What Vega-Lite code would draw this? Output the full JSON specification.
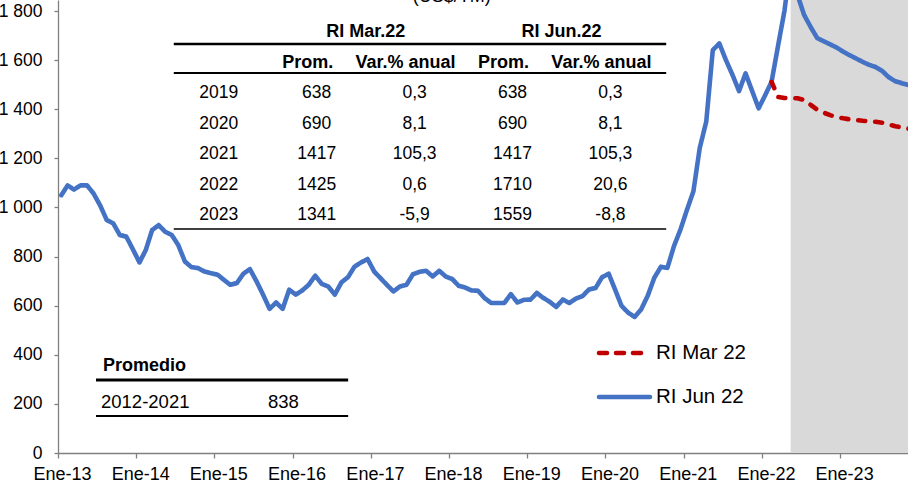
{
  "$schema": "https://vega.github.io/schema/vega-lite/v6.json",
  "width": 850,
  "height": 453,
  "autosize": {"type": "none"},
  "padding": {"left": 58, "top": 0, "right": 0, "bottom": 30},
  "background": "white",
  "config": {"view": {"stroke": null}, "font": "Liberation Sans"},
  "datasets": {
    "sombra": [{"inicio": "2022-05-15", "fin": "2024-01-31"}],
    "precios": [
      {"fecha": "2013-01", "serie": "RI Jun 22", "valor": 1050},
      {"fecha": "2013-02", "serie": "RI Jun 22", "valor": 1090},
      {"fecha": "2013-03", "serie": "RI Jun 22", "valor": 1073},
      {"fecha": "2013-04", "serie": "RI Jun 22", "valor": 1090},
      {"fecha": "2013-05", "serie": "RI Jun 22", "valor": 1090},
      {"fecha": "2013-06", "serie": "RI Jun 22", "valor": 1057},
      {"fecha": "2013-07", "serie": "RI Jun 22", "valor": 1009},
      {"fecha": "2013-08", "serie": "RI Jun 22", "valor": 949},
      {"fecha": "2013-09", "serie": "RI Jun 22", "valor": 935},
      {"fecha": "2013-10", "serie": "RI Jun 22", "valor": 888},
      {"fecha": "2013-11", "serie": "RI Jun 22", "valor": 881},
      {"fecha": "2013-12", "serie": "RI Jun 22", "valor": 830},
      {"fecha": "2014-01", "serie": "RI Jun 22", "valor": 776},
      {"fecha": "2014-02", "serie": "RI Jun 22", "valor": 827},
      {"fecha": "2014-03", "serie": "RI Jun 22", "valor": 908},
      {"fecha": "2014-04", "serie": "RI Jun 22", "valor": 928},
      {"fecha": "2014-05", "serie": "RI Jun 22", "valor": 901},
      {"fecha": "2014-06", "serie": "RI Jun 22", "valor": 888},
      {"fecha": "2014-07", "serie": "RI Jun 22", "valor": 847},
      {"fecha": "2014-08", "serie": "RI Jun 22", "valor": 780},
      {"fecha": "2014-09", "serie": "RI Jun 22", "valor": 757},
      {"fecha": "2014-10", "serie": "RI Jun 22", "valor": 753},
      {"fecha": "2014-11", "serie": "RI Jun 22", "valor": 739},
      {"fecha": "2014-12", "serie": "RI Jun 22", "valor": 732},
      {"fecha": "2015-01", "serie": "RI Jun 22", "valor": 726},
      {"fecha": "2015-02", "serie": "RI Jun 22", "valor": 705},
      {"fecha": "2015-03", "serie": "RI Jun 22", "valor": 685},
      {"fecha": "2015-04", "serie": "RI Jun 22", "valor": 692},
      {"fecha": "2015-05", "serie": "RI Jun 22", "valor": 730},
      {"fecha": "2015-06", "serie": "RI Jun 22", "valor": 749},
      {"fecha": "2015-07", "serie": "RI Jun 22", "valor": 700},
      {"fecha": "2015-08", "serie": "RI Jun 22", "valor": 645},
      {"fecha": "2015-09", "serie": "RI Jun 22", "valor": 587},
      {"fecha": "2015-10", "serie": "RI Jun 22", "valor": 613},
      {"fecha": "2015-11", "serie": "RI Jun 22", "valor": 587},
      {"fecha": "2015-12", "serie": "RI Jun 22", "valor": 665},
      {"fecha": "2016-01", "serie": "RI Jun 22", "valor": 645},
      {"fecha": "2016-02", "serie": "RI Jun 22", "valor": 662},
      {"fecha": "2016-03", "serie": "RI Jun 22", "valor": 685},
      {"fecha": "2016-04", "serie": "RI Jun 22", "valor": 722},
      {"fecha": "2016-05", "serie": "RI Jun 22", "valor": 689},
      {"fecha": "2016-06", "serie": "RI Jun 22", "valor": 678},
      {"fecha": "2016-07", "serie": "RI Jun 22", "valor": 645},
      {"fecha": "2016-08", "serie": "RI Jun 22", "valor": 695},
      {"fecha": "2016-09", "serie": "RI Jun 22", "valor": 716},
      {"fecha": "2016-10", "serie": "RI Jun 22", "valor": 759},
      {"fecha": "2016-11", "serie": "RI Jun 22", "valor": 776},
      {"fecha": "2016-12", "serie": "RI Jun 22", "valor": 790},
      {"fecha": "2017-01", "serie": "RI Jun 22", "valor": 739},
      {"fecha": "2017-02", "serie": "RI Jun 22", "valor": 712},
      {"fecha": "2017-03", "serie": "RI Jun 22", "valor": 685},
      {"fecha": "2017-04", "serie": "RI Jun 22", "valor": 658},
      {"fecha": "2017-05", "serie": "RI Jun 22", "valor": 678},
      {"fecha": "2017-06", "serie": "RI Jun 22", "valor": 685},
      {"fecha": "2017-07", "serie": "RI Jun 22", "valor": 728},
      {"fecha": "2017-08", "serie": "RI Jun 22", "valor": 738},
      {"fecha": "2017-09", "serie": "RI Jun 22", "valor": 742},
      {"fecha": "2017-10", "serie": "RI Jun 22", "valor": 719},
      {"fecha": "2017-11", "serie": "RI Jun 22", "valor": 742},
      {"fecha": "2017-12", "serie": "RI Jun 22", "valor": 719},
      {"fecha": "2018-01", "serie": "RI Jun 22", "valor": 708},
      {"fecha": "2018-02", "serie": "RI Jun 22", "valor": 681},
      {"fecha": "2018-03", "serie": "RI Jun 22", "valor": 674},
      {"fecha": "2018-04", "serie": "RI Jun 22", "valor": 662},
      {"fecha": "2018-05", "serie": "RI Jun 22", "valor": 661},
      {"fecha": "2018-06", "serie": "RI Jun 22", "valor": 631},
      {"fecha": "2018-07", "serie": "RI Jun 22", "valor": 611},
      {"fecha": "2018-08", "serie": "RI Jun 22", "valor": 611},
      {"fecha": "2018-09", "serie": "RI Jun 22", "valor": 611},
      {"fecha": "2018-10", "serie": "RI Jun 22", "valor": 647},
      {"fecha": "2018-11", "serie": "RI Jun 22", "valor": 613},
      {"fecha": "2018-12", "serie": "RI Jun 22", "valor": 624},
      {"fecha": "2019-01", "serie": "RI Jun 22", "valor": 625},
      {"fecha": "2019-02", "serie": "RI Jun 22", "valor": 652},
      {"fecha": "2019-03", "serie": "RI Jun 22", "valor": 632},
      {"fecha": "2019-04", "serie": "RI Jun 22", "valor": 616},
      {"fecha": "2019-05", "serie": "RI Jun 22", "valor": 595},
      {"fecha": "2019-06", "serie": "RI Jun 22", "valor": 625},
      {"fecha": "2019-07", "serie": "RI Jun 22", "valor": 611},
      {"fecha": "2019-08", "serie": "RI Jun 22", "valor": 629},
      {"fecha": "2019-09", "serie": "RI Jun 22", "valor": 639},
      {"fecha": "2019-10", "serie": "RI Jun 22", "valor": 666},
      {"fecha": "2019-11", "serie": "RI Jun 22", "valor": 672},
      {"fecha": "2019-12", "serie": "RI Jun 22", "valor": 716},
      {"fecha": "2020-01", "serie": "RI Jun 22", "valor": 730},
      {"fecha": "2020-02", "serie": "RI Jun 22", "valor": 665},
      {"fecha": "2020-03", "serie": "RI Jun 22", "valor": 599},
      {"fecha": "2020-04", "serie": "RI Jun 22", "valor": 572},
      {"fecha": "2020-05", "serie": "RI Jun 22", "valor": 554},
      {"fecha": "2020-06", "serie": "RI Jun 22", "valor": 585},
      {"fecha": "2020-07", "serie": "RI Jun 22", "valor": 640},
      {"fecha": "2020-08", "serie": "RI Jun 22", "valor": 714},
      {"fecha": "2020-09", "serie": "RI Jun 22", "valor": 758},
      {"fecha": "2020-10", "serie": "RI Jun 22", "valor": 754},
      {"fecha": "2020-11", "serie": "RI Jun 22", "valor": 842},
      {"fecha": "2020-12", "serie": "RI Jun 22", "valor": 910},
      {"fecha": "2021-01", "serie": "RI Jun 22", "valor": 992},
      {"fecha": "2021-02", "serie": "RI Jun 22", "valor": 1066},
      {"fecha": "2021-03", "serie": "RI Jun 22", "valor": 1242},
      {"fecha": "2021-04", "serie": "RI Jun 22", "valor": 1350},
      {"fecha": "2021-05", "serie": "RI Jun 22", "valor": 1641},
      {"fecha": "2021-06", "serie": "RI Jun 22", "valor": 1668},
      {"fecha": "2021-07", "serie": "RI Jun 22", "valor": 1601},
      {"fecha": "2021-08", "serie": "RI Jun 22", "valor": 1540},
      {"fecha": "2021-09", "serie": "RI Jun 22", "valor": 1474},
      {"fecha": "2021-10", "serie": "RI Jun 22", "valor": 1546},
      {"fecha": "2021-11", "serie": "RI Jun 22", "valor": 1475},
      {"fecha": "2021-12", "serie": "RI Jun 22", "valor": 1404},
      {"fecha": "2022-01", "serie": "RI Jun 22", "valor": 1458},
      {"fecha": "2022-02", "serie": "RI Jun 22", "valor": 1512},
      {"fecha": "2022-03", "serie": "RI Jun 22", "valor": 1655},
      {"fecha": "2022-04", "serie": "RI Jun 22", "valor": 1800},
      {"fecha": "2022-05", "serie": "RI Jun 22", "valor": 2006},
      {"fecha": "2022-06", "serie": "RI Jun 22", "valor": 1866},
      {"fecha": "2022-07", "serie": "RI Jun 22", "valor": 1785},
      {"fecha": "2022-08", "serie": "RI Jun 22", "valor": 1735},
      {"fecha": "2022-09", "serie": "RI Jun 22", "valor": 1690},
      {"fecha": "2022-10", "serie": "RI Jun 22", "valor": 1677},
      {"fecha": "2022-11", "serie": "RI Jun 22", "valor": 1664},
      {"fecha": "2022-12", "serie": "RI Jun 22", "valor": 1651},
      {"fecha": "2023-01", "serie": "RI Jun 22", "valor": 1634},
      {"fecha": "2023-02", "serie": "RI Jun 22", "valor": 1620},
      {"fecha": "2023-03", "serie": "RI Jun 22", "valor": 1607},
      {"fecha": "2023-04", "serie": "RI Jun 22", "valor": 1593},
      {"fecha": "2023-05", "serie": "RI Jun 22", "valor": 1581},
      {"fecha": "2023-06", "serie": "RI Jun 22", "valor": 1572},
      {"fecha": "2023-07", "serie": "RI Jun 22", "valor": 1556},
      {"fecha": "2023-08", "serie": "RI Jun 22", "valor": 1530},
      {"fecha": "2023-09", "serie": "RI Jun 22", "valor": 1514},
      {"fecha": "2023-10", "serie": "RI Jun 22", "valor": 1506},
      {"fecha": "2023-11", "serie": "RI Jun 22", "valor": 1499},
      {"fecha": "2023-12", "serie": "RI Jun 22", "valor": 1492},
      {"fecha": "2022-02", "serie": "RI Mar 22", "valor": 1512},
      {"fecha": "2022-03", "serie": "RI Mar 22", "valor": 1450},
      {"fecha": "2022-04", "serie": "RI Mar 22", "valor": 1446},
      {"fecha": "2022-05", "serie": "RI Mar 22", "valor": 1445},
      {"fecha": "2022-06", "serie": "RI Mar 22", "valor": 1445},
      {"fecha": "2022-07", "serie": "RI Mar 22", "valor": 1438},
      {"fecha": "2022-08", "serie": "RI Mar 22", "valor": 1418},
      {"fecha": "2022-09", "serie": "RI Mar 22", "valor": 1398},
      {"fecha": "2022-10", "serie": "RI Mar 22", "valor": 1386},
      {"fecha": "2022-11", "serie": "RI Mar 22", "valor": 1376},
      {"fecha": "2022-12", "serie": "RI Mar 22", "valor": 1368},
      {"fecha": "2023-01", "serie": "RI Mar 22", "valor": 1363},
      {"fecha": "2023-02", "serie": "RI Mar 22", "valor": 1359},
      {"fecha": "2023-03", "serie": "RI Mar 22", "valor": 1356},
      {"fecha": "2023-04", "serie": "RI Mar 22", "valor": 1353},
      {"fecha": "2023-05", "serie": "RI Mar 22", "valor": 1351},
      {"fecha": "2023-06", "serie": "RI Mar 22", "valor": 1349},
      {"fecha": "2023-07", "serie": "RI Mar 22", "valor": 1345},
      {"fecha": "2023-08", "serie": "RI Mar 22", "valor": 1338},
      {"fecha": "2023-09", "serie": "RI Mar 22", "valor": 1331},
      {"fecha": "2023-10", "serie": "RI Mar 22", "valor": 1326},
      {"fecha": "2023-11", "serie": "RI Mar 22", "valor": 1321},
      {"fecha": "2023-12", "serie": "RI Mar 22", "valor": 1316}
    ],
    "tabla": [
      {"tipo": "unidad", "fila": -3.14, "col": 2.38, "texto": "(US$/TM)"},
      {"tipo": "grupo", "fila": -2, "col": 1.5, "texto": "RI Mar.22"},
      {"tipo": "grupo", "fila": -2, "col": 3.5, "texto": "RI Jun.22"},
      {"tipo": "encabezado", "fila": -1, "col": 1, "texto": "Prom."},
      {"tipo": "encabezado", "fila": -1, "col": 2, "texto": "Var.% anual"},
      {"tipo": "encabezado", "fila": -1, "col": 3, "texto": "Prom."},
      {"tipo": "encabezado", "fila": -1, "col": 4, "texto": "Var.% anual"},
      {"tipo": "dato", "fila": 0, "col": 0, "texto": "2019"},
      {"tipo": "dato", "fila": 0, "col": 1, "texto": "638"},
      {"tipo": "dato", "fila": 0, "col": 2, "texto": "0,3"},
      {"tipo": "dato", "fila": 0, "col": 3, "texto": "638"},
      {"tipo": "dato", "fila": 0, "col": 4, "texto": "0,3"},
      {"tipo": "dato", "fila": 1, "col": 0, "texto": "2020"},
      {"tipo": "dato", "fila": 1, "col": 1, "texto": "690"},
      {"tipo": "dato", "fila": 1, "col": 2, "texto": "8,1"},
      {"tipo": "dato", "fila": 1, "col": 3, "texto": "690"},
      {"tipo": "dato", "fila": 1, "col": 4, "texto": "8,1"},
      {"tipo": "dato", "fila": 2, "col": 0, "texto": "2021"},
      {"tipo": "dato", "fila": 2, "col": 1, "texto": "1417"},
      {"tipo": "dato", "fila": 2, "col": 2, "texto": "105,3"},
      {"tipo": "dato", "fila": 2, "col": 3, "texto": "1417"},
      {"tipo": "dato", "fila": 2, "col": 4, "texto": "105,3"},
      {"tipo": "dato", "fila": 3, "col": 0, "texto": "2022"},
      {"tipo": "dato", "fila": 3, "col": 1, "texto": "1425"},
      {"tipo": "dato", "fila": 3, "col": 2, "texto": "0,6"},
      {"tipo": "dato", "fila": 3, "col": 3, "texto": "1710"},
      {"tipo": "dato", "fila": 3, "col": 4, "texto": "20,6"},
      {"tipo": "dato", "fila": 4, "col": 0, "texto": "2023"},
      {"tipo": "dato", "fila": 4, "col": 1, "texto": "1341"},
      {"tipo": "dato", "fila": 4, "col": 2, "texto": "-5,9"},
      {"tipo": "dato", "fila": 4, "col": 3, "texto": "1559"},
      {"tipo": "dato", "fila": 4, "col": 4, "texto": "-8,8"}
    ],
    "bordes_tabla": [
      {"borde": "superior", "fila": -1.607},
      {"borde": "medio", "fila": -0.656},
      {"borde": "inferior", "fila": 4.459}
    ],
    "promedio": [
      {"tipo": "titulo", "fila": 0, "col": 0, "texto": "Promedio"},
      {"tipo": "dato", "fila": 1, "col": 0, "texto": "2012-2021"},
      {"tipo": "dato", "fila": 1, "col": 1, "texto": "838"}
    ],
    "bordes_promedio": [
      {"borde": "superior", "fila": 0.39},
      {"borde": "inferior", "fila": 1.39}
    ],
    "leyenda": [
      {"serie": "RI Mar 22", "orden": 0},
      {"serie": "RI Jun 22", "orden": 1}
    ]
  },
  "layer": [
    {
      "layer": [
        {
          "data": {"name": "sombra"},
          "mark": {"type": "rect", "color": "#d9d9d9", "clip": true},
          "encoding": {
            "x": {"field": "inicio", "type": "temporal"},
            "x2": {"field": "fin"}
          }
        },
        {
          "data": {"name": "precios"},
          "mark": {"type": "line", "strokeWidth": 4.6, "clip": true, "strokeJoin": "round", "strokeCap": "round"},
          "encoding": {
            "x": {
              "field": "fecha", "type": "temporal", "timeUnit": "utcyearmonth", "bandPosition": 0.5,
              "scale": {"type": "utc", "nice": false,
                "domain": [{"year": 2013, "month": 1, "date": 1, "utc": true}, {"year": 2023, "month": 11, "date": 14, "utc": true}]},
              "axis": {
                "title": null, "grid": false,
                "values": [
                  {"year": 2013, "month": 1, "date": 1, "utc": true},
                  {"year": 2014, "month": 1, "date": 1, "utc": true},
                  {"year": 2015, "month": 1, "date": 1, "utc": true},
                  {"year": 2016, "month": 1, "date": 1, "utc": true},
                  {"year": 2017, "month": 1, "date": 1, "utc": true},
                  {"year": 2018, "month": 1, "date": 1, "utc": true},
                  {"year": 2019, "month": 1, "date": 1, "utc": true},
                  {"year": 2020, "month": 1, "date": 1, "utc": true},
                  {"year": 2021, "month": 1, "date": 1, "utc": true},
                  {"year": 2022, "month": 1, "date": 1, "utc": true},
                  {"year": 2023, "month": 1, "date": 1, "utc": true}
                ],
                "labelExpr": "'Ene-' + utcFormat(datum.value, '%y')",
                "labelFont": "Liberation Sans", "labelFontSize": 18, "labelColor": "#000000",
                "labelPadding": 7, "labelOffset": 4, "labelOverlap": false, "labelFlush": false,
                "tickSize": 5, "tickColor": "#808080", "tickWidth": 1.3,
                "domainColor": "#808080", "domainWidth": 1.3
              }
            },
            "y": {
              "field": "valor", "type": "quantitative",
              "scale": {"domain": [0, 1845], "nice": false, "zero": false},
              "axis": {
                "title": null, "grid": false,
                "values": [0, 200, 400, 600, 800, 1000, 1200, 1400, 1600, 1800],
                "labelExpr": "replace(format(datum.value, ','), ',', ' ')",
                "labelFont": "Liberation Sans", "labelFontSize": 17.5, "labelColor": "#000000",
                "labelPadding": 12, "labelOverlap": false, "labelFlush": false,
                "tickSize": 4, "tickColor": "#808080", "tickWidth": 1.3,
                "domainColor": "#808080", "domainWidth": 1.3
              }
            },
            "color": {"field": "serie", "type": "nominal",
              "scale": {"domain": ["RI Mar 22", "RI Jun 22"], "range": ["#C00000", "#4472C4"]}, "legend": null},
            "strokeDash": {"field": "serie", "type": "nominal",
              "scale": {"domain": ["RI Mar 22", "RI Jun 22"], "range": [[7, 10], [1, 0]]}, "legend": null}
          }
        }
      ]
    },
    {
      "layer": [
        {
          "data": {"name": "bordes_tabla"},
          "mark": {"type": "rule", "color": "#000000"},
          "encoding": {
            "x": {"datum": -0.46, "type": "quantitative", "scale": {"domain": [0, 4], "range": [160.8, 552.4], "nice": false, "zero": false}, "axis": null},
            "x2": {"datum": 4.57},
            "y": {"field": "fila", "type": "quantitative", "scale": {"domain": [-2, 4], "range": [32, 215], "nice": false, "zero": false}, "axis": null},
            "strokeWidth": {"field": "borde", "type": "nominal", "scale": {"domain": ["superior", "medio", "inferior"], "range": [2.5, 1.4, 2.5]}, "legend": null}
          }
        },
        {
          "data": {"name": "tabla"},
          "transform": [{"filter": "datum.tipo === 'dato'"}],
          "mark": {"type": "text", "font": "Liberation Sans", "fontSize": 17.5, "align": "center", "baseline": "middle", "color": "#000000"},
          "encoding": {
            "x": {"field": "col", "type": "quantitative", "axis": null},
            "y": {"field": "fila", "type": "quantitative", "axis": null},
            "text": {"field": "texto"}
          }
        },
        {
          "data": {"name": "tabla"},
          "transform": [{"filter": "datum.tipo === 'encabezado'"}],
          "mark": {"type": "text", "font": "Liberation Sans", "fontSize": 18, "fontWeight": "bold", "align": "center", "baseline": "middle", "dx": -9, "color": "#000000"},
          "encoding": {
            "x": {"field": "col", "type": "quantitative", "axis": null},
            "y": {"field": "fila", "type": "quantitative", "axis": null},
            "text": {"field": "texto"}
          }
        },
        {
          "data": {"name": "tabla"},
          "transform": [{"filter": "datum.tipo === 'grupo'"}],
          "mark": {"type": "text", "font": "Liberation Sans", "fontSize": 18, "fontWeight": "bold", "align": "center", "baseline": "middle", "color": "#000000"},
          "encoding": {
            "x": {"field": "col", "type": "quantitative", "axis": null},
            "y": {"field": "fila", "type": "quantitative", "axis": null},
            "text": {"field": "texto"}
          }
        },
        {
          "data": {"name": "tabla"},
          "transform": [{"filter": "datum.tipo === 'unidad'"}],
          "mark": {"type": "text", "font": "Liberation Sans", "fontSize": 18, "align": "center", "baseline": "middle", "color": "#000000"},
          "encoding": {
            "x": {"field": "col", "type": "quantitative", "axis": null},
            "y": {"field": "fila", "type": "quantitative", "axis": null},
            "text": {"field": "texto"}
          }
        }
      ]
    },
    {
      "layer": [
        {
          "data": {"name": "bordes_promedio"},
          "mark": {"type": "rule", "color": "#000000"},
          "encoding": {
            "x": {"datum": -0.03, "type": "quantitative", "scale": {"domain": [0, 1], "range": [43, 210], "nice": false, "zero": false}, "axis": null},
            "x2": {"datum": 1.48},
            "y": {"field": "fila", "type": "quantitative", "scale": {"domain": [0, 1], "range": [366, 402], "nice": false, "zero": false}, "axis": null},
            "strokeWidth": {"field": "borde", "type": "nominal", "scale": {"domain": ["superior", "inferior"], "range": [3, 2]}, "legend": null}
          }
        },
        {
          "data": {"name": "promedio"},
          "transform": [{"filter": "datum.tipo === 'titulo'"}],
          "mark": {"type": "text", "font": "Liberation Sans", "fontSize": 18, "fontWeight": "bold", "align": "left", "baseline": "middle", "dx": 2, "color": "#000000"},
          "encoding": {
            "x": {"field": "col", "type": "quantitative", "axis": null},
            "y": {"field": "fila", "type": "quantitative", "axis": null},
            "text": {"field": "texto"}
          }
        },
        {
          "data": {"name": "promedio"},
          "transform": [{"filter": "datum.tipo === 'dato'"}],
          "mark": {"type": "text", "font": "Liberation Sans", "fontSize": 18.5, "align": "left", "baseline": "middle", "color": "#000000"},
          "encoding": {
            "x": {"field": "col", "type": "quantitative", "axis": null},
            "y": {"field": "fila", "type": "quantitative", "axis": null},
            "text": {"field": "texto"}
          }
        }
      ]
    },
    {
      "layer": [
        {
          "data": {"name": "leyenda"},
          "mark": {"type": "rule", "strokeWidth": 4.6, "strokeCap": "round"},
          "encoding": {
            "x": {"datum": 0, "type": "quantitative", "scale": {"domain": [0, 1], "range": [541, 592], "nice": false, "zero": false}, "axis": null},
            "x2": {"datum": 1},
            "y": {"field": "orden", "type": "quantitative", "scale": {"domain": [0, 1], "range": [353, 397], "nice": false, "zero": false}, "axis": null},
            "color": {"field": "serie", "type": "nominal",
              "scale": {"domain": ["RI Mar 22", "RI Jun 22"], "range": ["#C00000", "#4472C4"]}, "legend": null},
            "strokeDash": {"field": "serie", "type": "nominal",
              "scale": {"domain": ["RI Mar 22", "RI Jun 22"], "range": [[8, 9], [1, 0]]}, "legend": null}
          }
        },
        {
          "data": {"name": "leyenda"},
          "mark": {"type": "text", "font": "Liberation Sans", "fontSize": 20.5, "align": "left", "baseline": "middle", "dx": 6, "color": "#000000"},
          "encoding": {
            "x": {"datum": 1, "type": "quantitative", "axis": null},
            "y": {"field": "orden", "type": "quantitative", "axis": null},
            "text": {"field": "serie"}
          }
        }
      ]
    }
  ],
  "resolve": {"scale": {"x": "independent", "y": "independent", "color": "independent", "strokeDash": "independent", "strokeWidth": "independent"}}
}
